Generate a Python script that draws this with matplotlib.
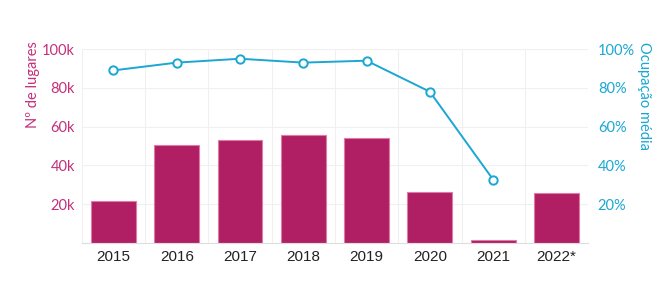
import numpy as np
import matplotlib.pyplot as plt
from matplotlib.ticker import FuncFormatter

years = ["2015", "2016", "2017", "2018", "2019", "2020", "2021", "2022*"]
lugares = [21500, 50300, 53000, 55700, 54200, 26500, 1500, 26000]
ocupacao = [89, 93, 95, 93, 94, 78, 32.7, np.nan]

pink = "#b01f63"
pink_txt = "#c4307a"
blue = "#1aa7d3"

fig = plt.figure(figsize=(6.6, 2.99), dpi=100)
ax = fig.add_axes([0.124, 0.187, 0.767, 0.649])
x = np.arange(len(years))

ax.bar(x, lugares, width=0.71, color=pink, edgecolor="#e07aa6", linewidth=0.8, zorder=2)
ax.set_xlim(-0.5, len(years) - 0.5)
ax.set_ylim(0, 100000)
ax.set_yticks([20000, 40000, 60000, 80000, 100000])
ax.yaxis.set_major_formatter(FuncFormatter(lambda v, p: f"{int(v / 1000)}k"))
ax.set_xticks(x)
ax.set_xticklabels(years, fontfamily="Liberation Sans", fontsize=11, color="#222222")
ax.set_xticks(np.arange(-0.5, len(years)), minor=True)
ax.grid(axis="y", color="#f0f0f0", linewidth=0.8, zorder=0)
ax.grid(axis="x", which="minor", color="#f0f0f0", linewidth=0.8, zorder=0)
ax.tick_params(axis="x", which="both", length=0, pad=5)
ax.tick_params(axis="y", length=0, pad=5, labelcolor=pink_txt, labelsize=10.5)
for lbl in ax.get_yticklabels():
    lbl.set_fontfamily("Lato")
for s in ["top", "right", "left"]:
    ax.spines[s].set_visible(False)
ax.spines["bottom"].set_color("#dddddd")
ax.set_ylabel("Nº de lugares", color=pink_txt, fontfamily="Lato", fontsize=10.5,
              ha="center", va="center")
ax.yaxis.set_label_coords(-0.097, 0.815)

ax2 = ax.twinx()
ax2.plot(x, ocupacao, color=blue, linewidth=1.4, marker="o", markersize=6,
         markerfacecolor="white", markeredgecolor=blue, markeredgewidth=1.4, zorder=3)
ax2.set_ylim(0, 100)
ax2.set_yticks([20, 40, 60, 80, 100])
ax2.yaxis.set_major_formatter(FuncFormatter(lambda v, p: f"{int(v)}%"))
ax2.tick_params(axis="y", length=0, pad=7, labelcolor=blue, labelsize=10.5)
for lbl in ax2.get_yticklabels():
    lbl.set_fontfamily("Lato")
for s in ["top", "right", "left", "bottom"]:
    ax2.spines[s].set_visible(False)
ax2.set_ylabel("Ocupação média", color=blue, fontfamily="Lato", fontsize=10.5,
               rotation=-90, ha="center", va="center")
ax2.yaxis.set_label_coords(1.11, 0.76)

fig.savefig("out.png", dpi=100)
